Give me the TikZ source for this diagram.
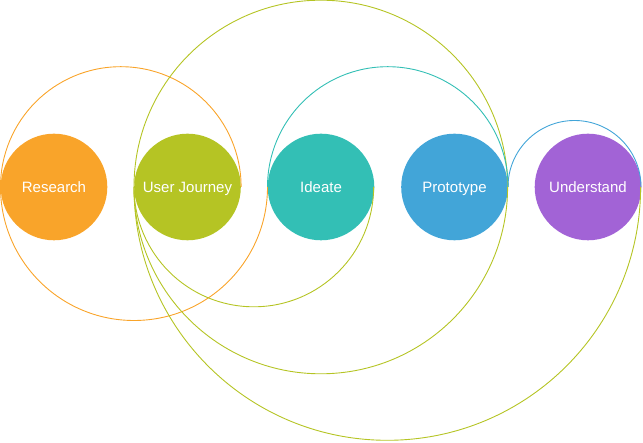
\documentclass[tikz,border=0pt]{standalone}
\usepackage{fontspec}
\setmainfont{Liberation Sans}
\definecolor{cResearch}{RGB}{249,164,42}
\definecolor{cJourney}{RGB}{181,196,36}
\definecolor{cIdeate}{RGB}{51,191,181}
\definecolor{cProto}{RGB}{66,165,216}
\definecolor{cUnder}{RGB}{162,99,214}
\begin{document}
\begin{tikzpicture}[x=1pt, y=1pt,
    stage/.style={circle, minimum size=106.6pt, inner sep=0pt, text=white, text height=10.7pt, text depth=0pt, font=\fontsize{15}{17}\selectfont},
    loop/.style={line width=0.9pt}]
      \useasboundingbox (0,-256) rectangle (643,187); % page frame
      \node[stage, fill=cResearch] (research) at (54,0) {Research};
      \node[stage, fill=cJourney] (journey) at (187.5,0) {User Journey};
      \node[stage, fill=cIdeate] (ideate) at (321,0) {Ideate};
      \node[stage, fill=cProto] (proto) at (454.5,0) {Prototype};
      \node[stage, fill=cUnder] (under) at (588,0) {Understand};
      % upper arcs
      \draw[loop, cResearch] (research.west) arc[start angle=180, end angle=0, radius=120.3];
      \draw[loop, cJourney] (journey.west) arc[start angle=180, end angle=0, radius=186.8];
      \draw[loop, cIdeate] (ideate.west) arc[start angle=180, end angle=0, radius=120.3];
      \draw[loop, cProto] (proto.east) arc[start angle=180, end angle=0, radius=66.5];
      % lower arcs
      \draw[loop, cResearch] (research.west) arc[start angle=180, end angle=360, radius=133.5];
      \draw[loop, cJourney] (journey.west) arc[start angle=180, end angle=360, radius=119.8];
      \draw[loop, cJourney] (journey.west) arc[start angle=180, end angle=360, radius=186.8];
      \draw[loop, cJourney] (journey.west) arc[start angle=180, end angle=360, radius=253.3];
\end{tikzpicture}
\end{document}
